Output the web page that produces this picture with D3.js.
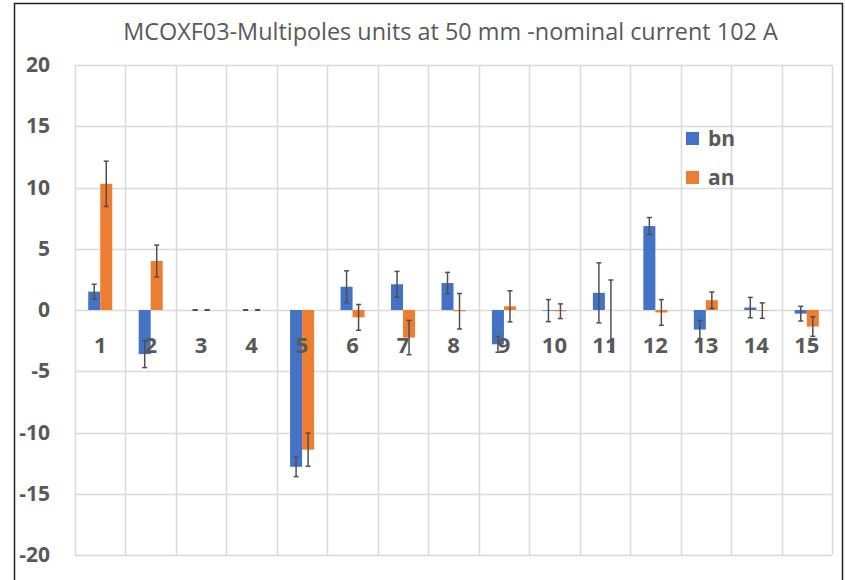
<!DOCTYPE html>
<html>
<head>
<meta charset="utf-8">
<script src="https://cdn.jsdelivr.net/npm/d3@7"></script>
<style>
  body { margin: 0; background: #fff; }
  svg { display: block; font-family: 'Open Sans', sans-serif; }
</style>
</head>
<body>
<div id="chart"></div>
<script>
// multipole orders
const categories = ['1', '2', '3', '4', '5', '6', '7', '8', '9', '10', '11', '12', '13', '14', '15'];
const seriesNames = ['bn', 'an'];

// bn values and error
const bnValues = [1.5, -3.6, 0, 0, -12.8, 1.9, 2.1, 2.2, -2.8, -0.05, 1.4, 6.85, -1.6, 0.2, -0.3];
const bnErrUp = [0.6, 1.1, 0.02, 0.02, 0.8, 1.3, 1.05, 0.87, 0.65, 0.9, 2.45, 0.7, 0.73, 0.83, 0.6];
const bnErrDown = [0.6, 1.1, 0.02, 0.02, 0.8, 1.3, 1.05, 0.87, 0.65, 0.9, 2.45, 0.7, 0.73, 0.83, 0.6];

// an values and error
const anValues = [10.3, 4.0, 0, 0, -11.4, -0.6, -2.25, -0.1, 0.3, -0.1, 0, -0.2, 0.8, -0.05, -1.35];
const anErrUp = [1.85, 1.3, 0.02, 0.02, 1.35, 1.05, 1.4, 1.45, 1.27, 0.6, 2.45, 1.05, 0.67, 0.63, 0.8];
const anErrDown = [1.85, 1.3, 0.02, 0.02, 1.35, 1.05, 1.4, 1.45, 1.27, 0.6, 3.4, 1.05, 0.67, 0.63, 0.8];

const yTicks = [-20, -15, -10, -5, 0, 5, 10, 15, 20];
const colors = { bn: '#4472C4', an: '#ED7D31' };

const width = 845;
const height = 580;
const margin = { top: 65, right: 13, bottom: 25, left: 75 };
const innerW = width - margin.left - margin.right;
const innerH = height - margin.top - margin.bottom;
const textColor = '#595959';
const gridColor = '#d9d9d9';

const svg = d3.select('#chart')
  .append('svg')
  .attr('width', width)
  .attr('height', height);

// outer frame
svg.append('path')
  .attr('d', `M14.5,${height + 5} V3.5 H842.5 V${height + 5}`)
  .attr('fill', 'none')
  .attr('stroke', '#222')
  .attr('stroke-width', 1.5);

const g = svg.append('g')
  .attr('transform', `translate(${margin.left},${margin.top})`);

const x = d3.scaleBand()
  .domain(categories)
  .range([0, innerW])
  .padding(0);

const x1 = d3.scaleBand()
  .domain(seriesNames)
  .range([0, x.bandwidth()])
  .paddingInner(0)
  .paddingOuter(1.1);

const y = d3.scaleLinear()
  .domain([-20, 20])
  .range([innerH, 0]);

// horizontal grid
g.append('g')
  .selectAll('line')
  .data(yTicks)
  .enter()
  .append('line')
  .attr('x1', 0)
  .attr('x2', innerW)
  .attr('y1', d => Math.round(y(d)) + 0.5)
  .attr('y2', d => Math.round(y(d)) + 0.5)
  .attr('stroke', gridColor)
  .attr('stroke-width', 1.5);

// vertical grid at category boundaries
const boundaries = categories.map(c => x(c)).concat([x.range()[1]]);
g.append('g')
  .selectAll('line')
  .data(boundaries)
  .enter()
  .append('line')
  .attr('x1', d => Math.round(d) + 0.5)
  .attr('x2', d => Math.round(d) + 0.5)
  .attr('y1', 0)
  .attr('y2', innerH)
  .attr('stroke', gridColor)
  .attr('stroke-width', 1.5);

// y axis labels (plain hyphen like the original)
const yAxis = g.append('g')
  .call(d3.axisLeft(y).tickValues(yTicks).tickFormat(d => String(d)).tickSize(0).tickPadding(25));
yAxis.select('.domain').remove();
yAxis.selectAll('text')
  .attr('fill', textColor)
  .style('font-size', '21px')
  .style('font-weight', 'bold')
  .style('font-family', "'Open Sans', sans-serif");

// rows for bars
const rows = categories.map((c, i) => ({
  cat: c,
  items: [
    { key: 'bn', value: bnValues[i], up: bnErrUp[i], down: bnErrDown[i] },
    { key: 'an', value: anValues[i], up: anErrUp[i], down: anErrDown[i] },
  ],
}));

const group = g.selectAll('.cat')
  .data(rows)
  .enter()
  .append('g')
  .attr('class', 'cat')
  .attr('transform', d => `translate(${x(d.cat)},0)`);

group.selectAll('rect')
  .data(d => d.items)
  .enter()
  .append('rect')
  .attr('x', d => x1(d.key))
  .attr('width', x1.bandwidth())
  .attr('y', d => y(Math.max(0, d.value)))
  .attr('height', d => Math.abs(y(d.value) - y(0)))
  .attr('fill', d => colors[d.key]);

// category labels at the zero line
const xAxis = g.append('g')
  .attr('transform', `translate(0,${y(0)})`)
  .call(d3.axisBottom(x).tickSize(0).tickPadding(27));
xAxis.select('.domain').remove();
xAxis.selectAll('text')
  .attr('fill', textColor)
  .style('font-size', '22px')
  .style('font-weight', 'bold')
  .style('font-family', "'Open Sans', sans-serif");

// error bars
const errColor = '#505050';
const capW = 2.5;
const err = group.selectAll('.err')
  .data(d => d.items)
  .enter()
  .append('g')
  .attr('class', 'err')
  .attr('transform', d => `translate(${x1(d.key) + x1.bandwidth() / 2},0)`);

err.append('line')
  .attr('y1', d => y(d.value + d.up))
  .attr('y2', d => y(d.value - d.down))
  .attr('stroke', errColor)
  .attr('stroke-width', 1.5);

err.append('line')
  .attr('x1', -capW).attr('x2', capW)
  .attr('y1', d => y(d.value + d.up))
  .attr('y2', d => y(d.value + d.up))
  .attr('stroke', errColor)
  .attr('stroke-width', 1.5);

err.append('line')
  .attr('x1', -capW).attr('x2', capW)
  .attr('y1', d => y(d.value - d.down))
  .attr('y2', d => y(d.value - d.down))
  .attr('stroke', errColor)
  .attr('stroke-width', 1.5);

// legend
const legend = svg.append('g')
  .attr('transform', 'translate(686,132)');
seriesNames.forEach((name, i) => {
  const item = legend.append('g')
    .attr('transform', `translate(0,${i * 39})`);
  item.append('rect')
    .attr('width', 13)
    .attr('height', 13)
    .attr('fill', colors[name]);
  item.append('text')
    .attr('x', 22)
    .attr('y', 14)
    .text(name)
    .attr('fill', textColor)
    .style('font-size', '21px')
    .style('font-weight', 'bold');
});

// title
const title = svg.append('text')
  .attr('x', 450.5)
  .attr('y', 40)
  .attr('text-anchor', 'middle')
  .attr('fill', textColor)
  .style('font-size', '19px')
  .text('MCOXF03-Multipoles units at 50 mm -nominal current 102 A');
const titleW = title.node().getComputedTextLength();
title.style('font-size', `${19 * 655 / titleW}px`);
</script>
</body>
</html>
